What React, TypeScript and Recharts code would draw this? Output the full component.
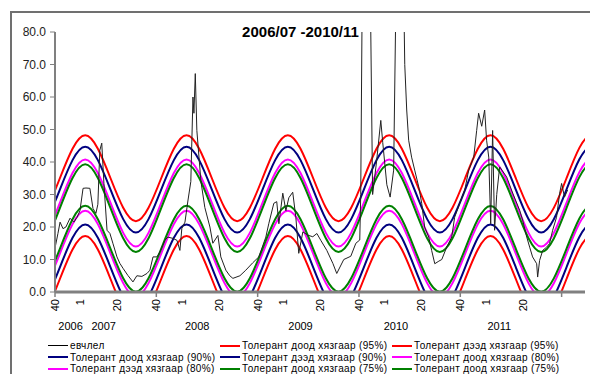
import React from 'react';
import { LineChart, Line, XAxis, YAxis, Legend } from 'recharts';

const FONT = '"Liberation Sans", Arial, sans-serif';

// x = week index, 0 = week 40 of 2006
const weekTicks = [0, 13, 32, 52, 65, 84, 104, 117, 136, 156, 169, 188, 208, 221, 240, 260];
const weekTickLabels = ['40', '1', '20', '40', '1', '20', '40', '1', '20', '40', '1', '20', '40', '1', '20', ''];
const majorTicks = [0, 52, 104, 156, 208, 260];
const yearTicks = [8, 25, 73, 126, 175, 228];
const yearLabels = ['2006', '2007', '2008', '2009', '2010', '2011'];
const yTicks = [0, 10, 20, 30, 40, 50, 60, 70, 80];

// observed values
const obsWeeks = [
  0, 1.5, 2.6, 4.1, 5.6, 7.7, 9.7, 11.3, 12.8, 14.4, 15.9, 17.9, 19.5, 21, 22, 23, 24, 25.1, 26.7, 28.2,
  29.7, 31.8, 33.3, 34.9, 37.4, 40, 42, 44.6, 47.2, 48.7, 50.3, 52.3, 53.8, 56.4, 57.9, 60.5, 62.6, 64.1,
  65.1, 66.7, 68.2, 69.7, 70.8, 71.3, 72, 72.8, 74.9, 76.9, 79.5, 81, 83.6, 85.1, 87.7, 89.7, 91.3, 94.9,
  97.9, 101.5, 104.6, 108.2, 109.7, 112.3, 113.8, 114.9, 116.9, 118.5, 120, 122, 123.6, 125.1, 127.2,
  129.7, 132.3, 134.4, 136.4, 139.5, 142.6, 144.6, 148.2, 151.8, 154.4, 156.4, 156.9, 157.9, 161.5, 163,
  165, 167.2, 168.2, 170.3, 172, 173.8, 175.4, 178.5, 179.5, 180.5, 181.5, 183, 184.6, 186.7, 188.2,
  189.7, 191.8, 193.3, 194.9, 197, 198.5, 201, 203.6, 205.1, 207.7, 210.3, 212.3, 214.9, 216.4, 217.4,
  219, 220.5, 221.5, 222.6, 223.6, 224.6, 225.6, 226.7, 228.2, 231.8, 234.9, 238.5, 240, 242.1, 243.6,
  245.1, 247.2, 247.7, 248.7, 250.3, 252.3, 253.8, 255.4, 257.4, 259, 260, 261.5, 263.1,
];
const obsValues = [
  13.5, 18, 21.5, 19.5, 20, 22.7, 21.5, 23, 25, 31.9, 32, 31.9, 25.7, 24.2, 27, 43.6, 45.8, 33.4, 19, 18,
  15, 10.8, 8.8, 7.3, 5.1, 3.1, 5, 4.8, 5.7, 6.7, 10.8, 10.8, 12.3, 15.9, 16.9, 16.5, 15.9, 12.8,
  19.6, 21.5, 28, 34, 60, 55, 67.2, 49.7, 34, 26, 20, 15, 17.4, 10.8, 6.7, 5, 4.2, 5,
  6.7, 9, 10.8, 16.9, 21, 27.3, 27.8, 21, 30.4, 25, 29, 30.7, 23, 11.9, 18.5,
  17.5, 17, 18, 15.9, 12.8, 8.8, 5.7, 10, 11, 15, 16, 30, 110, 110, 30,
  40, 52.8, 46, 33, 29.2, 37.5, 110, 110, 70, 56, 46.7, 41.5, 37.5, 32.3, 27.3,
  20, 16.9, 12.8, 8.7, 9.5, 10, 13.8, 16.9, 23, 27.3, 31.4, 37.5, 41.5, 49.7, 55,
  51, 56, 46.7, 41.5, 21, 49.7, 19, 30, 38.5, 35.4, 30.4, 25.1, 22.1, 16.9, 13.8,
  10.8, 8.7, 4.6, 9.7, 12.8, 13.8, 14.9, 19, 23, 30.4, 33.4, 29.2, 31.4,
];

// tolerance limits, read at quarter-season points
const bandWeeks = [
  -23.5, -10.5, 2.5, 15.5, 28.5, 41.5, 54.5, 67.5, 80.5, 93.5, 106.5, 119.5, 132.5,
  145.5, 158.5, 171.5, 184.5, 197.5, 210.5, 223.5, 236.5, 249.5, 262.5, 275.5, 288.5, 301.5,
];
const upper95 = [35, 21.8, 35, 48.2, 35, 21.8, 35, 48.2, 35, 21.8, 35, 48.2, 35, 21.8, 35, 48.2, 35, 21.8, 35, 48.2, 35, 21.8, 35, 48.2, 35, 21.8];
const upper90 = [31.5, 18.3, 31.5, 44.7, 31.5, 18.3, 31.5, 44.7, 31.5, 18.3, 31.5, 44.7, 31.5, 18.3, 31.5, 44.7, 31.5, 18.3, 31.5, 44.7, 31.5, 18.3, 31.5, 44.7, 31.5, 18.3];
const upper80 = [27.4, 14, 27.4, 40.8, 27.4, 14, 27.4, 40.8, 27.4, 14, 27.4, 40.8, 27.4, 14, 27.4, 40.8, 27.4, 14, 27.4, 40.8, 27.4, 14, 27.4, 40.8, 27.4, 14];
const upper75 = [25.8, 12.3, 25.8, 39.3, 25.8, 12.3, 25.8, 39.3, 25.8, 12.3, 25.8, 39.3, 25.8, 12.3, 25.8, 39.3, 25.8, 12.3, 25.8, 39.3, 25.8, 12.3, 25.8, 39.3, 25.8, 12.3];
const lower75 = [13.3, 0.1, 13.3, 26.5, 13.3, 0.1, 13.3, 26.5, 13.3, 0.1, 13.3, 26.5, 13.3, 0.1, 13.3, 26.5, 13.3, 0.1, 13.3, 26.5, 13.3, 0.1, 13.3, 26.5, 13.3, 0.1];
const lower80 = [11.8, -1.4, 11.8, 25, 11.8, -1.4, 11.8, 25, 11.8, -1.4, 11.8, 25, 11.8, -1.4, 11.8, 25, 11.8, -1.4, 11.8, 25, 11.8, -1.4, 11.8, 25, 11.8, -1.4];
const lower90 = [7.6, -5.6, 7.6, 20.8, 7.6, -5.6, 7.6, 20.8, 7.6, -5.6, 7.6, 20.8, 7.6, -5.6, 7.6, 20.8, 7.6, -5.6, 7.6, 20.8, 7.6, -5.6, 7.6, 20.8, 7.6, -5.6];
const lower95 = [4, -9.2, 4, 17.2, 4, -9.2, 4, 17.2, 4, -9.2, 4, 17.2, 4, -9.2, 4, 17.2, 4, -9.2, 4, 17.2, 4, -9.2, 4, 17.2, 4, -9.2];

const legendNames = [
  'евчлел',
  'Толерант доод хязгаар (95%)',
  'Толерант дээд хязгаар (95%)',
  'Толерант доод хязгаар (90%)',
  'Толерант дээд хязгаар (90%)',
  'Толерант доод хязгаар (80%)',
  'Толерант дээд хязгаар (80%)',
  'Толерант доод хязгаар (75%)',
  'Толерант доод хязгаар (75%)',
];
const legendColors = ['#000000', '#ff0000', '#ff0000', '#000080', '#000080', '#ff00ff', '#ff00ff', '#008000', '#008000'];

const toPoints = (ws: number[], vs: number[]) => ws.map((w, i) => ({ w, v: vs[i] }));

const bands = [
  { data: lower95, color: '#ff0000' },
  { data: upper95, color: '#ff0000' },
  { data: lower90, color: '#000080' },
  { data: upper90, color: '#000080' },
  { data: lower80, color: '#ff00ff' },
  { data: upper80, color: '#ff00ff' },
  { data: lower75, color: '#008000' },
  { data: upper75, color: '#008000' },
];

const WeekTick = (props: any) => {
  const { x, y, payload } = props;
  const i = weekTicks.indexOf(payload.value);
  const label = i >= 0 ? weekTickLabels[i] : '';
  const major = majorTicks.includes(payload.value);
  return (
    <g>
      {major && <line x1={x} x2={x} y1={292} y2={297} stroke="#808080" strokeWidth={1.5} />}
      {label && (
        <text
          x={x}
          y={y}
          transform={`rotate(-90 ${x} ${y})`}
          textAnchor="end"
          dominantBaseline="central"
          fontSize={11}
          fontFamily={FONT}
          fill="#000"
        >
          {label}
        </text>
      )}
    </g>
  );
};

const renderLegend = () => (
  <div
    style={{
      display: 'grid',
      gridTemplateColumns: '172px 172px 172px',
      paddingLeft: 48,
    }}
  >
    {legendNames.map((name, i) => (
      <div
        key={i}
        style={{
          display: 'flex',
          alignItems: 'center',
          height: 11.5,
          fontSize: 10,
          letterSpacing: '0.35px',
          fontFamily: FONT,
          color: '#000',
          whiteSpace: 'nowrap',
        }}
      >
        <span
          style={{
            display: 'inline-block',
            width: 20,
            height: 0,
            borderTop: `${i === 0 ? 1 : 2}px solid ${legendColors[i]}`,
            marginRight: 2,
          }}
        />
        {name}
      </div>
    ))}
  </div>
);

export default function App() {
  return (
    <div style={{ position: 'absolute', left: 0, top: 0, width: 590, height: 374, overflow: 'hidden', background: '#fff' }}>
      <div
        style={{
          position: 'absolute',
          left: 10,
          top: 11,
          width: 600,
          height: 400,
          border: '2px solid #707070',
          boxSizing: 'border-box',
        }}
      />
      <div style={{ position: 'absolute', left: 0, top: 0 }}>
        <LineChart width={590} height={374} margin={{ top: 32, right: 5, left: 0, bottom: 0 }}>
          <XAxis
            dataKey="w"
            type="number"
            domain={[0, 272]}
            allowDataOverflow
            ticks={weekTicks}
            interval={0}
            tick={<WeekTick />}
            tickLine={false}
            tickSize={5}
            tickMargin={2}
            height={30}
            axisLine={{ stroke: '#808080', strokeWidth: 3 }}
          />
          <XAxis
            xAxisId="year"
            dataKey="w"
            type="number"
            domain={[0, 272]}
            allowDataOverflow
            ticks={yearTicks}
            interval={0}
            tickFormatter={(v: number) => yearLabels[yearTicks.indexOf(v)] ?? ''}
            tick={{ fontSize: 11, fill: '#000', fontFamily: FONT }}
            tickLine={false}
            axisLine={false}
            tickSize={0}
            tickMargin={0}
            height={18}
          />
          <YAxis
            domain={[0, 80]}
            allowDataOverflow
            ticks={yTicks}
            interval={0}
            width={55}
            tickFormatter={(v: number) => v.toFixed(1)}
            tick={{ fontSize: 12, fill: '#222', fontFamily: FONT }}
            tickSize={5}
            tickMargin={4}
            axisLine={{ stroke: '#808080', strokeWidth: 2 }}
            tickLine={{ stroke: '#808080' }}
          />
          <Legend
            verticalAlign="bottom"
            content={renderLegend}
            wrapperStyle={{ left: 0, width: 590, height: 34 }}
          />
          {bands.map((b, i) => (
            <Line
              key={i}
              data={toPoints(bandWeeks, b.data)}
              dataKey="v"
              type="natural"
              stroke={b.color}
              strokeWidth={2}
              dot={false}
              activeDot={false}
              isAnimationActive={false}
            />
          ))}
          <Line
            data={toPoints(obsWeeks, obsValues)}
            dataKey="v"
            type="linear"
            stroke="#222"
            strokeWidth={1}
            dot={false}
            activeDot={false}
            isAnimationActive={false}
          />
        </LineChart>
      </div>
      <div
        style={{
          position: 'absolute',
          left: 200,
          top: 24,
          width: 201,
          textAlign: 'center',
          fontFamily: FONT,
          fontWeight: 'bold',
          fontSize: 15,
          lineHeight: '16px',
          color: '#000',
        }}
      >
        2006/07 -2010/11
      </div>
    </div>
  );
}
